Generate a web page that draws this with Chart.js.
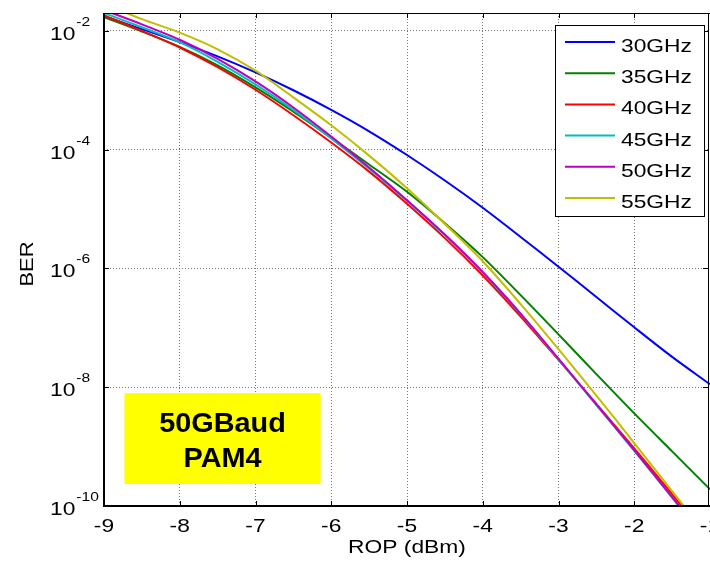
<!DOCTYPE html>
<html>
<head>
<meta charset="utf-8">
<script src="https://cdn.jsdelivr.net/npm/chart.js@4"></script>
<style>
  html, body { margin: 0; padding: 0; background: #fff; overflow: hidden; }
</style>
</head>
<body>
<canvas id="berChart" width="710" height="562"></canvas>
<script>
// received optical power (dBm), sampled every 0.5 dB
const rop = [-9, -8.5, -8, -7.5, -7, -6.5, -6, -5.5, -5, -4.5, -4, -3.5, -3, -2.5, -2, -1.5, -1]

// BER, one list per bandwidth
const ber30 = [1.78e-2, 1.07e-2, 6.46e-3, 3.72e-3, 2.0e-3, 1.0e-3, 4.68e-4, 2.04e-4, 8.13e-5, 3.02e-5, 1.05e-5, 3.39e-6, 1.07e-6, 3.31e-7, 1.02e-7, 3.24e-8, 1.12e-8]
const ber35 = [1.70e-2, 9.77e-3, 5.37e-3, 2.63e-3, 1.12e-3, 4.37e-4, 1.58e-4, 5.62e-5, 1.95e-5, 5.75e-6, 1.55e-6, 3.55e-7, 7.76e-8, 1.66e-8, 3.63e-9, 8.32e-10, 1.91e-10]
const ber40 = [1.82e-2, 1.0e-2, 5.25e-3, 2.45e-3, 1.02e-3, 3.80e-4, 1.32e-4, 4.27e-5, 1.23e-5, 3.24e-6, 7.59e-7, 1.55e-7, 2.88e-8, 5.25e-9, 9.33e-10, 1.58e-10, 2.51e-11]
const ber45 = [2.0e-2, 1.15e-2, 6.46e-3, 3.02e-3, 1.26e-3, 4.68e-4, 1.55e-4, 4.79e-5, 1.38e-5, 3.63e-6, 8.51e-7, 1.70e-7, 2.95e-8, 5.01e-9, 8.51e-10, 1.38e-10, 2.19e-11]
const ber50 = [2.24e-2, 1.29e-2, 7.08e-3, 3.39e-3, 1.41e-3, 5.13e-4, 1.66e-4, 5.01e-5, 1.41e-5, 3.72e-6, 8.71e-7, 1.74e-7, 3.02e-8, 5.13e-9, 8.71e-10, 1.41e-10, 2.24e-11]
const ber55 = [2.82e-2, 1.58e-2, 9.33e-3, 4.90e-3, 2.14e-3, 7.59e-4, 2.57e-4, 7.94e-5, 2.24e-5, 5.62e-6, 1.32e-6, 2.51e-7, 4.37e-8, 7.24e-9, 1.15e-9, 1.78e-10, 2.75e-11]

const seriesNames = ['30GHz', '35GHz', '40GHz', '45GHz', '50GHz', '55GHz']
const seriesData = [ber30, ber35, ber40, ber45, ber50, ber55]
const seriesColors = ['#0000ff', '#008000', '#ff0000', '#00bfbf', '#bf00bf', '#bfbf00']

const ropTicks = [-9, -8, -7, -6, -5, -4, -3, -2, -1]
const berTicks = [1e-10, 1e-8, 1e-6, 1e-4, 1e-2]
const berExponents = ['-10', '-8', '-6', '-4', '-2']
const noteLines = ['50GBaud', 'PAM4']

const FONT = "'Liberation Sans', Arial, sans-serif"
const stretch = 1.2 // the original figure was pulled wider, text included

function wideText(ctx, text, x, y, font, align, sx) {
    ctx.save()
    ctx.font = font
    ctx.textAlign = align || 'left'
    ctx.textBaseline = 'alphabetic'
    ctx.translate(x, y)
    ctx.scale(sx || stretch, 1)
    ctx.fillText(text, 0, 0)
    ctx.restore()
}

// matlab style frame, labels, legend and the yellow note
const matlabLook = {
    id: 'matlabLook',
    afterDraw(chart) {
        const {ctx, chartArea: a, scales: {x, y}} = chart
        ctx.save()
        ctx.fillStyle = '#000'
        ctx.strokeStyle = '#000'

        // inward tick marks
        ctx.lineWidth = 1
        ctx.beginPath()
        ropTicks.forEach(v => {
            const px = Math.round(x.getPixelForValue(v)) + 0.5
            ctx.moveTo(px, a.bottom); ctx.lineTo(px, a.bottom - 5)
            ctx.moveTo(px, a.top); ctx.lineTo(px, a.top + 5)
        })
        berTicks.forEach(v => {
            const py = Math.round(y.getPixelForValue(v)) + 0.5
            ctx.moveTo(a.left, py); ctx.lineTo(a.left + 5, py)
            ctx.moveTo(a.right - 2, py); ctx.lineTo(a.right - 7, py)
        })
        ctx.stroke()

        // box
        ctx.beginPath()
        ctx.moveTo(a.left, a.top + 0.5); ctx.lineTo(a.right, a.top + 0.5)
        ctx.moveTo(a.right - 1.5, a.top); ctx.lineTo(a.right - 1.5, a.bottom)
        ctx.stroke()
        ctx.lineWidth = 2
        ctx.beginPath()
        ctx.moveTo(a.left, a.top); ctx.lineTo(a.left, a.bottom)
        ctx.lineTo(a.right, a.bottom)
        ctx.stroke()

        // x tick labels and title
        ropTicks.forEach(v => {
            wideText(ctx, String(v), x.getPixelForValue(v), a.bottom + 26, '19px ' + FONT, 'center')
        })
        wideText(ctx, 'ROP (dBm)', (a.left + a.right) / 2, 553, '19px ' + FONT, 'center')

        // y tick labels as 10 with a raised exponent
        ctx.font = '19px ' + FONT
        const baseW = ctx.measureText('10').width * stretch
        berTicks.forEach((v, i) => {
            const py = y.getPixelForValue(v)
            wideText(ctx, '10', 50, py + 9, '19px ' + FONT, 'left')
            wideText(ctx, berExponents[i], 51 + baseW, py - 5, '13px ' + FONT, 'left')
        })

        // y title
        ctx.save()
        ctx.translate(33, 264)
        ctx.rotate(-Math.PI / 2)
        wideText(ctx, 'BER', 0, 0, '19px ' + FONT, 'center', 1.15)
        ctx.restore()

        // legend
        const lg = {left: 555, top: 25, right: 704, bottom: 216}
        ctx.fillStyle = '#fff'
        ctx.fillRect(lg.left, lg.top, lg.right - lg.left, lg.bottom - lg.top)
        ctx.lineWidth = 1
        ctx.strokeStyle = '#000'
        ctx.strokeRect(lg.left + 0.5, lg.top + 0.5, lg.right - lg.left, lg.bottom - lg.top)
        seriesNames.forEach((name, i) => {
            const ly = 42 + i * 31.2
            ctx.strokeStyle = seriesColors[i]
            ctx.lineWidth = 2
            ctx.beginPath()
            ctx.moveTo(565, ly); ctx.lineTo(615, ly)
            ctx.stroke()
            ctx.fillStyle = '#000'
            wideText(ctx, name, 621, ly + 10, '19px ' + FONT, 'left')
        })

        // yellow note box, placed in data units
        const nx0 = x.getPixelForValue(-8.73), nx1 = x.getPixelForValue(-6.14)
        const ny0 = y.getPixelForValue(Math.pow(10, -8.1)), ny1 = y.getPixelForValue(Math.pow(10, -9.63))
        ctx.fillStyle = '#ffff00'
        ctx.fillRect(nx0, ny0, nx1 - nx0, ny1 - ny0)
        ctx.fillStyle = '#000'
        const cx = (nx0 + nx1) / 2
        wideText(ctx, noteLines[0], cx, ny0 + 39, 'bold 28px ' + FONT, 'center', 1.03)
        wideText(ctx, noteLines[1], cx, ny0 + 74, 'bold 28px ' + FONT, 'center', 1.03)

        ctx.restore()
    }
}

new Chart(document.getElementById('berChart'), {
    type: 'line',
    data: {
        labels: rop,
        datasets: seriesData.map((d, i) => ({
            label: seriesNames[i],
            data: d.map((v, k) => ({x: rop[k], y: v})),
            borderColor: seriesColors[i],
            backgroundColor: seriesColors[i],
            borderWidth: 2,
            pointRadius: 0,
            tension: 0.3,
            // later series sit on top, as in the original
            order: seriesData.length - i
        }))
    },
    options: {
        responsive: false,
        animation: false,
        devicePixelRatio: 1,
        layout: {padding: {top: 13, right: 0, left: 0, bottom: 0}},
        plugins: {
            legend: {display: false},
            tooltip: {enabled: false}
        },
        scales: {
            x: {
                type: 'linear',
                min: -9,
                max: -1,
                ticks: {display: false, stepSize: 1},
                afterBuildTicks: s => { s.ticks = ropTicks.map(v => ({value: v})) },
                afterFit: s => { s.height = 56 },
                grid: {color: '#777', lineWidth: 1, drawTicks: false},
                border: {display: false, dash: [1, 2]}
            },
            y: {
                type: 'logarithmic',
                min: 1e-10,
                max: 2e-2,
                ticks: {display: false},
                afterBuildTicks: s => { s.ticks = berTicks.map(v => ({value: v})) },
                afterFit: s => { s.width = 104 },
                grid: {color: '#777', lineWidth: 1, drawTicks: false},
                border: {display: false, dash: [1, 2]}
            }
        }
    },
    plugins: [matlabLook]
})
</script>
</body>
</html>
